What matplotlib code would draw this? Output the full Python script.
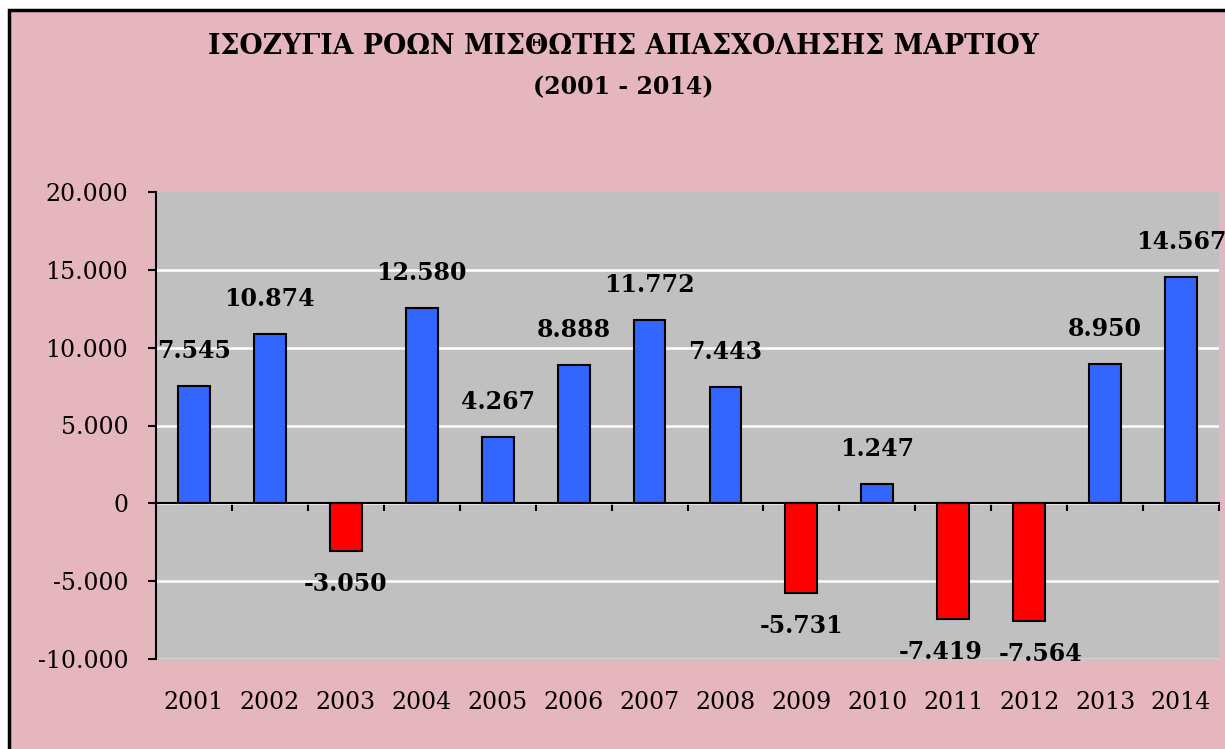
import matplotlib.pyplot as plt
from matplotlib.patches import Rectangle
from matplotlib.ticker import FuncFormatter, MultipleLocator
import matplotlib.transforms as mtransforms

years = ['2001', '2002', '2003', '2004', '2005', '2006', '2007',
         '2008', '2009', '2010', '2011', '2012', '2013', '2014']
balance = [7545, 10874, -3050, 12580, 4267, 8888, 11772,
           7443, -5731, 1247, -7419, -7564, 8950, 14567]

title = 'ΙΣΟΖΥΓΙΑ ΡΟΩΝ ΜΙΣΘΩΤΗΣ ΑΠΑΣΧΟΛΗΣΗΣ ΜΑΡΤΙΟΥ\n(2001 - 2014)'

# sideways nudge (pixels) for labels that would collide
label_dx = [0, 0, 0, 0, 0, 0, 0, 0, 0, 0, -13, 11, 0, 0]

PINK = '#e6b6be'
GREY = '#c0c0c0'
BLUE = '#3366ff'
RED = '#ff0000'

def greek_num(v, pos=None):
    # greek style thousands separator
    return f'{int(v):,}'.replace(',', '.')

plt.rcParams['font.family'] = ['DejaVu Serif']

fig = plt.figure(figsize=(12.25, 7.49), dpi=100)
fig.patch.set_facecolor('white')
# pink chart area with black frame
fig.patches.append(Rectangle((9/1225, -0.02), 1.05, 1 - 10/749 + 0.02,
                             transform=fig.transFigure, facecolor=PINK,
                             edgecolor='black', linewidth=2.5, zorder=-1))

ax = fig.add_axes([156/1225, 90/749, 1063/1225, 467/749])
ax.set_facecolor(GREY)

x = list(range(len(years)))
colors = [BLUE if v >= 0 else RED for v in balance]
ax.bar(x, balance, width=0.42, color=colors, edgecolor='black', linewidth=1.5, zorder=3)

ax.set_xlim(-0.5, len(years) - 0.5)
ax.set_ylim(-10000, 20000)
ax.yaxis.set_major_locator(MultipleLocator(5000))
ax.yaxis.set_major_formatter(FuncFormatter(greek_num))
ax.tick_params(axis='y', direction='out', length=6, width=1.5, labelsize=17, pad=14)
ax.grid(axis='y', color='white', linewidth=1.8, zorder=1)
fig.canvas.draw()
for t in ax.yaxis.get_major_ticks():
    if t.get_loc() >= 20000:
        t.gridline.set_visible(False)
    if t.get_loc() <= -10000:
        t.gridline.set_color('#d8d8d8')

for s in ['top', 'right']:
    ax.spines[s].set_visible(False)
ax.spines['left'].set_linewidth(1.5)
ax.spines['bottom'].set_position(('data', 0))
ax.spines['bottom'].set_linewidth(1.5)
ax.spines['bottom'].set_zorder(4)

# tick marks at category borders, labels placed below the plot
ax.set_xticks([i - 0.5 for i in range(1, len(years) + 1)])
ax.set_xticklabels([])
ax.tick_params(axis='x', direction='out', length=6, width=1.5)
trans = mtransforms.blended_transform_factory(ax.transData, ax.transAxes)
for i, yr in enumerate(years):
    ax.text(i, -0.094, yr, transform=trans, ha='center', va='center', fontsize=17)

for i, v in enumerate(balance):
    off = 35 if v >= 0 else -33
    ax.annotate(greek_num(v), (i, v), xytext=(label_dx[i], off), textcoords='offset pixels',
                ha='center', va='center', fontsize=17, fontweight='bold',
                annotation_clip=False, zorder=5)

fig.text(623/1225, 1 - 47/749, title.split('\n')[0], ha='center', va='center',
         fontsize=19.3, fontweight='bold')
fig.text(623/1225, 1 - 87/749, title.split('\n')[1], ha='center', va='center',
         fontsize=17, fontweight='bold')

fig.savefig('out.png', dpi=100, facecolor=fig.get_facecolor())
